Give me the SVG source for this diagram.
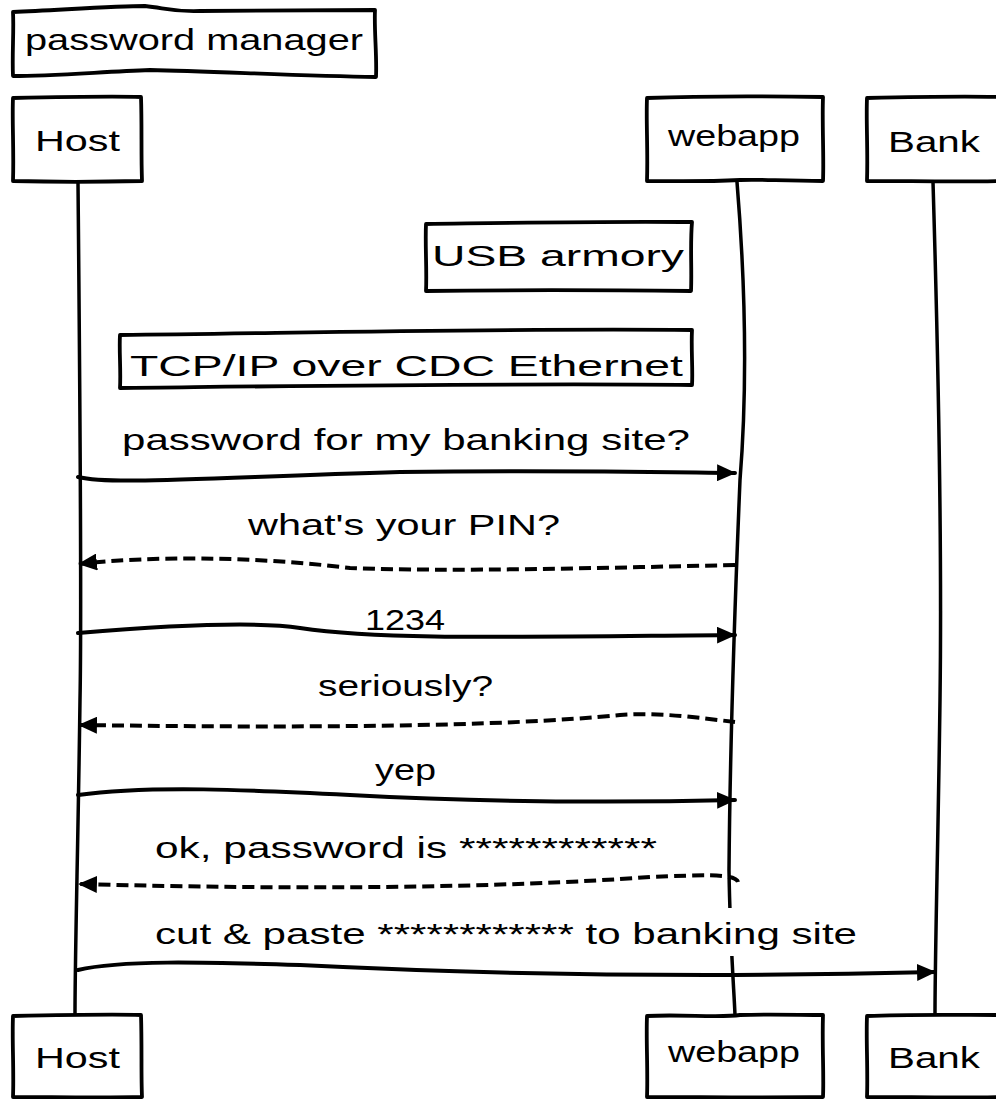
<svg xmlns="http://www.w3.org/2000/svg" width="996" height="1099" viewBox="0 0 996 1099">
<style>
.box{fill:#fff;stroke:#000;stroke-width:3.8;stroke-linejoin:round}
.life{fill:none;stroke:#000;stroke-width:3.5;stroke-linecap:round}
.msg{fill:none;stroke:#000;stroke-width:4;stroke-linecap:round}
.dash{stroke-dasharray:12 6;stroke-linecap:butt}
text{font-family:"Liberation Sans","DejaVu Sans",sans-serif;font-size:30px;fill:#000}
</style>
<defs>
<marker id="ah" viewBox="0 0 18 16" refX="17" refY="8" markerWidth="19" markerHeight="17" markerUnits="userSpaceOnUse" orient="auto">
<path d="M0,0 L18,8 L0,16 Z" fill="#000"/>
</marker>
</defs>
<rect width="996" height="1099" fill="#fff"/>

<g id="title">
<path class="box" d="M13,12 C60,10 115,6 145,6 C165,8 172,12 200,11 L375,10 C374,30 377,55 376,77 C300,76 210,71 150,70 C100,72 50,76 13,76 C12,55 14,30 13,12 Z"/>
<text x="25" y="50" textLength="338" lengthAdjust="spacingAndGlyphs">password manager</text>
</g>

<g id="lifelines">
<path class="life" d="M78,182 C80,400 82,600 80,700 C78,850 75,950 75,1015"/>
<path class="life" d="M737,182 C745,280 748,380 740,480 C735,600 730,750 729,870 C730,940 734,990 735,1015"/>
<path class="life" d="M933,182 C938,350 942,550 940,700 C938,850 935,950 935,1015"/>
</g>

<g id="host-top">
<path class="box" d="M13,98 C60,97 110,96 141,97 C142,125 141,155 142,181 C100,182 50,182 13,181 C14,150 12,120 13,98 Z"/>
<text x="35" y="151" textLength="85" lengthAdjust="spacingAndGlyphs">Host</text>
</g>
<g id="webapp-top">
<path class="box" d="M647,98 C700,96 760,96 823,97 C822,125 824,155 823,181 C780,181 760,179 740,180 C700,182 670,181 647,181 C648,150 646,120 647,98 Z"/>
<text x="668" y="146" textLength="132" lengthAdjust="spacingAndGlyphs">webapp</text>
</g>
<g id="bank-top">
<path class="box" d="M867,98 C910,97 960,96 1000,97 L1000,181 C960,182 910,181 867,181 C868,150 866,120 867,98 Z"/>
<text x="888" y="152" textLength="92" lengthAdjust="spacingAndGlyphs">Bank</text>
</g>

<g id="note-usb">
<path class="box" d="M426,224 C500,223 600,221 692,222 C690,245 692,270 691,291 C600,290 500,290 426,291 C427,270 425,245 426,224 Z"/>
<text x="432" y="266" textLength="252" lengthAdjust="spacingAndGlyphs">USB armory</text>
</g>
<g id="note-tcp">
<path class="box" d="M120,335 C300,333 500,328 692,330 C691,350 693,370 692,385 C500,383 300,386 120,388 C121,370 119,350 120,335 Z"/>
<text x="130" y="376" textLength="553" lengthAdjust="spacingAndGlyphs">TCP/IP over CDC Ethernet</text>
</g>

<g id="connectors">
<path class="msg" marker-end="url(#ah)" d="M78,477 C110,485 200,478 400,472 C550,470 650,472 735,473"/>
<text x="122" y="450" textLength="568" lengthAdjust="spacingAndGlyphs">password for my banking site?</text>

<path class="msg dash" marker-end="url(#ah)" d="M735,565 C600,568 450,572 350,568 C250,556 150,556 79,564"/>
<text x="248" y="535" textLength="312" lengthAdjust="spacingAndGlyphs">what's your PIN?</text>

<path class="msg" marker-end="url(#ah)" d="M78,633 C150,627 250,620 300,628 C380,640 500,637 735,635"/>
<text x="365" y="630" textLength="80" lengthAdjust="spacingAndGlyphs">1234</text>

<path class="msg dash" marker-end="url(#ah)" d="M735,722 C700,718 660,712 620,715 C500,727 300,728 79,725"/>
<text x="318" y="696" textLength="175" lengthAdjust="spacingAndGlyphs">seriously?</text>

<path class="msg" marker-end="url(#ah)" d="M78,795 C150,785 250,790 350,795 C500,803 650,802 735,800"/>
<text x="375" y="780" textLength="61" lengthAdjust="spacingAndGlyphs">yep</text>

<path class="msg dash" marker-end="url(#ah)" d="M738,882 C736,873 700,875 650,877 C500,888 300,890 79,884"/>
<text x="155" y="858" textLength="502" lengthAdjust="spacingAndGlyphs">ok, password is ************</text>

<rect x="152" y="908" width="706" height="48" fill="#fff"/>
<path class="msg" marker-end="url(#ah)" d="M78,970 C120,960 200,962 300,965 C500,975 700,978 935,972"/>
<text x="155" y="944" textLength="702" lengthAdjust="spacingAndGlyphs">cut &amp; paste ************ to banking site</text>
</g>

<g id="host-bottom">
<path class="box" d="M13,1016 C60,1015 110,1014 141,1015 C142,1045 141,1075 142,1097 C100,1098 50,1097 13,1097 C14,1070 12,1040 13,1016 Z"/>
<text x="35" y="1068" textLength="85" lengthAdjust="spacingAndGlyphs">Host</text>
</g>
<g id="webapp-bottom">
<path class="box" d="M647,1016 C680,1014 720,1018 740,1015 C770,1014 800,1015 823,1015 C822,1045 824,1075 823,1097 C760,1098 700,1097 647,1097 C648,1070 646,1040 647,1016 Z"/>
<text x="668" y="1062" textLength="132" lengthAdjust="spacingAndGlyphs">webapp</text>
</g>
<g id="bank-bottom">
<path class="box" d="M867,1016 C910,1014 960,1015 1000,1015 L1000,1097 C960,1098 910,1097 867,1097 C868,1070 866,1040 867,1016 Z"/>
<text x="888" y="1068" textLength="92" lengthAdjust="spacingAndGlyphs">Bank</text>
</g>
</svg>
